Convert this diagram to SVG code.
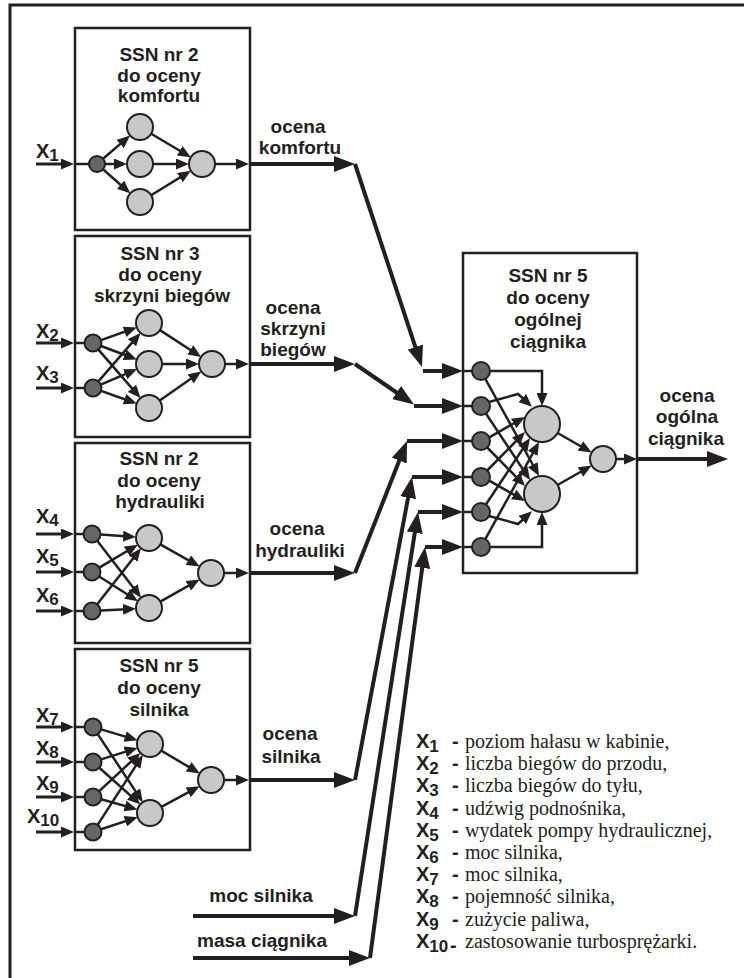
<svg xmlns="http://www.w3.org/2000/svg" width="744" height="978" viewBox="0 0 744 978">
<style>
.ln{stroke:#231f20;stroke-width:2.5;fill:none;marker-end:url(#s)}
.ia{stroke:#231f20;stroke-width:3;fill:none;marker-end:url(#s)}
.pl{stroke:#231f20;stroke-width:2.5;fill:none}
.fr{stroke:#231f20;stroke-width:3;fill:none}
.th{stroke:#231f20;stroke-width:4;fill:none;marker-end:url(#b)}
.box{fill:#fff;stroke:#231f20;stroke-width:2.5}
.in{fill:#666;stroke:#231f20;stroke-width:2}
.hd{fill:#c8c8c8;stroke:#231f20;stroke-width:2}
.t{font-family:"Liberation Sans",Arial,sans-serif;font-weight:bold;font-size:19px;fill:#231f20;text-anchor:middle}
.x{font-family:"Liberation Sans",Arial,sans-serif;font-weight:bold;font-size:20px;fill:#231f20}
.sub{font-size:17px}
.lg{font-family:"Liberation Serif","Times New Roman",serif;font-size:20px;fill:#231f20}
</style>
<defs>
<marker id="s" markerUnits="userSpaceOnUse" markerWidth="13" markerHeight="11" refX="9" refY="5.5" orient="auto"><path d="M0,0 L13,5.5 L0,11 z" fill="#231f20"/></marker>
<marker id="b" markerUnits="userSpaceOnUse" markerWidth="21" markerHeight="16" refX="15" refY="8" orient="auto"><path d="M0,0 L21,8 L0,16 z" fill="#231f20"/></marker>
</defs>
<rect width="744" height="978" fill="#fff"/>
<g id="frame"><path class="fr" d="M10,978 V5 H744"/></g>

<g id="ssn-komfort">
<rect class="box" x="75" y="28" width="175" height="202"/>
<text class="t" x="159" y="61">SSN nr 2</text>
<text class="t" x="159" y="82">do oceny</text>
<text class="t" x="159" y="102">komfortu</text>
<path class="pl" d="M75,164 H89"/>
<path class="ln" d="M103,158.8 L127.1,138.1"/>
<path class="ln" d="M105,164 H123"/>
<path class="ln" d="M103,169.3 L127.3,190.7"/>
<path class="ln" d="M151.2,133.7 L187.4,155.3"/>
<path class="ln" d="M153,164 H185"/>
<path class="ln" d="M151.1,195.2 L187.5,172.9"/>
<path class="ln" d="M215,164 H245"/>
<circle class="in" cx="97" cy="164" r="8"/>
<circle class="hd" cx="140" cy="127" r="13"/>
<circle class="hd" cx="140" cy="164" r="13"/>
<circle class="hd" cx="140" cy="202" r="13"/>
<circle class="hd" cx="202" cy="164" r="13"/>
</g>

<g id="ssn-skrzynia">
<rect class="box" x="75" y="236" width="175" height="201"/>
<text class="t" x="160" y="260">SSN nr 3</text>
<text class="t" x="160" y="281">do oceny</text>
<text class="t" x="162" y="302">skrzyni biegów</text>
<path class="pl" d="M75,343 H85 M75,388 H85"/>
<path class="ln" d="M101,340.1 L133,328.8"/>
<path class="ln" d="M101,346 L133.1,358"/>
<path class="ln" d="M98.2,349.4 L137.9,395.1"/>
<path class="ln" d="M98.2,381.6 L137.9,335.9"/>
<path class="ln" d="M100.8,384.7 L133.4,370.7"/>
<path class="ln" d="M101,390.9 L133,402.2"/>
<path class="ln" d="M159.9,330.1 L197.8,354.8"/>
<path class="ln" d="M162,364 H195"/>
<path class="ln" d="M159.7,400.6 L198,373.7"/>
<path class="ln" d="M225,364 H245"/>
<circle class="in" cx="93" cy="343" r="8.5"/>
<circle class="in" cx="93" cy="388" r="8.5"/>
<circle class="hd" cx="149" cy="323" r="13"/>
<circle class="hd" cx="149" cy="364" r="13"/>
<circle class="hd" cx="149" cy="408" r="13"/>
<circle class="hd" cx="212" cy="364" r="13"/>
</g>

<g id="ssn-hydraulika">
<rect class="box" x="75" y="443" width="175" height="200"/>
<text class="t" x="159" y="465">SSN nr 2</text>
<text class="t" x="159" y="487">do oceny</text>
<text class="t" x="160" y="508">hydrauliki</text>
<path class="pl" d="M75,534 H84 M75,572 H84 M75,611 H84"/>
<path class="ln" d="M100.5,534.6 L132,536.8"/>
<path class="ln" d="M97.2,540.7 L138.6,594.5"/>
<path class="ln" d="M99.3,567.6 L134.4,546.7"/>
<path class="ln" d="M99.2,576.5 L134.6,599"/>
<path class="ln" d="M97.2,604.3 L138.5,551.4"/>
<path class="ln" d="M100.5,610.5 L132,608.9"/>
<path class="ln" d="M160.3,544.4 L196.2,564.6"/>
<path class="ln" d="M160.3,601.6 L196.2,581.4"/>
<path class="ln" d="M224,573 H245"/>
<circle class="in" cx="92" cy="534" r="8.5"/>
<circle class="in" cx="92" cy="572" r="8.5"/>
<circle class="in" cx="92" cy="611" r="8.5"/>
<circle class="hd" cx="149" cy="538" r="13"/>
<circle class="hd" cx="149" cy="608" r="13"/>
<circle class="hd" cx="211" cy="573" r="13"/>
</g>

<g id="ssn-silnik">
<rect class="box" x="75" y="649" width="175" height="201"/>
<text class="t" x="159" y="672">SSN nr 5</text>
<text class="t" x="159" y="694">do oceny</text>
<text class="t" x="159" y="716">silnika</text>
<path class="pl" d="M75,727 H85 M75,762 H85 M75,797 H85 M75,832 H85"/>
<path class="ln" d="M101.1,729.4 L133.7,739.1"/>
<path class="ln" d="M97.7,734.1 L140.6,798.9"/>
<path class="ln" d="M101.1,759.4 L133.8,749.1"/>
<path class="ln" d="M99.3,767.7 L137.3,801.6"/>
<path class="ln" d="M99.2,791.2 L137.5,755.6"/>
<path class="ln" d="M101.2,799.3 L133.6,808.4"/>
<path class="ln" d="M97.6,824.9 L140.7,758.3"/>
<path class="ln" d="M101.1,829.3 L133.9,818.4"/>
<path class="ln" d="M161.2,750.6 L196.4,771.4"/>
<path class="ln" d="M161.4,806.8 L196.1,788.1"/>
<path class="ln" d="M224,780 H245"/>
<circle class="in" cx="93" cy="727" r="8.5"/>
<circle class="in" cx="93" cy="762" r="8.5"/>
<circle class="in" cx="93" cy="797" r="8.5"/>
<circle class="in" cx="93" cy="832" r="8.5"/>
<circle class="hd" cx="150" cy="744" r="13"/>
<circle class="hd" cx="150" cy="813" r="13"/>
<circle class="hd" cx="211" cy="780" r="13"/>
</g>

<g id="ssn-ogolna">
<rect class="box" x="463" y="253" width="174" height="320"/>
<text class="t" x="548" y="282">SSN nr 5</text>
<text class="t" x="548" y="304">do oceny</text>
<text class="t" x="548" y="326">ogólnej</text>
<text class="t" x="548" y="348">ciągnika</text>
<path class="pl" d="M463,371 H472 M463,406 H472 M463,441 H472 M463,477 H472 M463,512 H472 M463,547 H472"/>
<path class="ln" d="M490,371 H542 V402"/>
<path class="ln" d="M489,402 L518,394 L529,404"/>
<path class="ln" d="M488.8,437.6 L521.5,419"/>
<path class="ln" d="M487.2,470.5 L522.2,434.9"/>
<path class="ln" d="M485.9,504.5 L527.8,441.3"/>
<path class="ln" d="M485.3,539.1 L537.1,445.5"/>
<path class="ln" d="M490,547 H542 V516"/>
<path class="ln" d="M489,516 L518,524 L529,514"/>
<path class="ln" d="M488.8,480.4 L521.5,499"/>
<path class="ln" d="M487.2,447.5 L522.2,483.1"/>
<path class="ln" d="M485.9,413.5 L527.8,476.7"/>
<path class="ln" d="M485.3,378.9 L537.1,472.5"/>
<path class="ln" d="M557.6,433 L588.2,450.5"/>
<path class="ln" d="M557.6,485 L588.2,467.5"/>
<path class="ln" d="M616,459 H633"/>
<circle class="in" cx="481" cy="371" r="9"/>
<circle class="in" cx="481" cy="406" r="9"/>
<circle class="in" cx="481" cy="441" r="9"/>
<circle class="in" cx="481" cy="477" r="9"/>
<circle class="in" cx="481" cy="512" r="9"/>
<circle class="in" cx="481" cy="547" r="9"/>
<circle class="hd" cx="542" cy="424" r="18"/>
<circle class="hd" cx="542" cy="494" r="18"/>
<circle class="hd" cx="603" cy="459" r="13"/>
</g>

<g id="connectors">
<path class="ia" d="M36,164 H70"/>
<path class="ia" d="M36,343 H70"/>
<path class="ia" d="M36,388 H70"/>
<path class="ia" d="M36,534 H70"/>
<path class="ia" d="M36,572 H70"/>
<path class="ia" d="M36,611 H70"/>
<path class="ia" d="M36,727 H70"/>
<path class="ia" d="M36,762 H70"/>
<path class="ia" d="M36,797 H70"/>
<path class="ia" d="M36,832 H70"/>
<path class="th" d="M250,164 H349"/>
<path class="th" d="M250,364 H349"/>
<path class="th" d="M250,573 H349"/>
<path class="th" d="M250,780 H349"/>
<path class="th" d="M193,916 H349"/>
<path class="th" d="M193,958 H364"/>
<path class="th" d="M355,164 L420.1,361.3"/>
<path class="th" d="M355,364 L409,401"/>
<path class="th" d="M355,573 L404.8,446.6"/>
<path class="th" d="M355,780 L410.9,482.9"/>
<path class="th" d="M355,916 L417.1,517.9"/>
<path class="th" d="M370,958 L424.2,553"/>
<path class="th" d="M423,371 H457"/>
<path class="th" d="M414,406 H457"/>
<path class="th" d="M407,441 H457"/>
<path class="th" d="M412,477 H457"/>
<path class="th" d="M418,512 H457"/>
<path class="th" d="M425,547 H457"/>
<path class="th" d="M637,459 H722"/>
</g>

<g id="labels">
<text class="x" x="36" y="158">X<tspan class="sub" dy="3">1</tspan></text>
<text class="x" x="36" y="338">X<tspan class="sub" dy="3">2</tspan></text>
<text class="x" x="36" y="380">X<tspan class="sub" dy="3">3</tspan></text>
<text class="x" x="36" y="523">X<tspan class="sub" dy="3">4</tspan></text>
<text class="x" x="36" y="563">X<tspan class="sub" dy="3">5</tspan></text>
<text class="x" x="36" y="602">X<tspan class="sub" dy="3">6</tspan></text>
<text class="x" x="36" y="722">X<tspan class="sub" dy="3">7</tspan></text>
<text class="x" x="36" y="755">X<tspan class="sub" dy="3">8</tspan></text>
<text class="x" x="36" y="790">X<tspan class="sub" dy="3">9</tspan></text>
<text class="x" x="27" y="823">X<tspan class="sub" dy="3">10</tspan></text>
<text class="t" x="298" y="133">ocena</text>
<text class="t" x="300" y="154">komfortu</text>
<text class="t" x="293" y="314">ocena</text>
<text class="t" x="293" y="335">skrzyni</text>
<text class="t" x="293" y="356">biegów</text>
<text class="t" x="297" y="535">ocena</text>
<text class="t" x="300" y="557">hydrauliki</text>
<text class="t" x="290" y="740">ocena</text>
<text class="t" x="291" y="763">silnika</text>
<text class="t" x="687" y="402">ocena</text>
<text class="t" x="687" y="423">ogólna</text>
<text class="t" x="686" y="445">ciągnika</text>
<text class="t" x="261" y="902">moc silnika</text>
<text class="t" x="262" y="947">masa ciągnika</text>
</g>

<g id="legend">
<text class="x" x="416" y="748">X<tspan class="sub" dy="4">1</tspan></text>
<text class="x" x="416" y="770">X<tspan class="sub" dy="4">2</tspan></text>
<text class="x" x="416" y="792">X<tspan class="sub" dy="4">3</tspan></text>
<text class="x" x="416" y="815">X<tspan class="sub" dy="4">4</tspan></text>
<text class="x" x="416" y="837">X<tspan class="sub" dy="4">5</tspan></text>
<text class="x" x="416" y="859">X<tspan class="sub" dy="4">6</tspan></text>
<text class="x" x="416" y="881">X<tspan class="sub" dy="4">7</tspan></text>
<text class="x" x="416" y="903">X<tspan class="sub" dy="4">8</tspan></text>
<text class="x" x="416" y="926">X<tspan class="sub" dy="4">9</tspan></text>
<text class="x" x="416" y="948">X<tspan class="sub" dy="4">10</tspan></text>
<text class="x" x="452" y="748">-</text>
<text class="x" x="452" y="770">-</text>
<text class="x" x="452" y="792">-</text>
<text class="x" x="452" y="815">-</text>
<text class="x" x="452" y="837">-</text>
<text class="x" x="452" y="859">-</text>
<text class="x" x="452" y="881">-</text>
<text class="x" x="452" y="903">-</text>
<text class="x" x="452" y="926">-</text>
<text class="x" x="450" y="952">-</text>
<text class="lg" x="465" y="748">poziom hałasu w kabinie,</text>
<text class="lg" x="465" y="770">liczba biegów do przodu,</text>
<text class="lg" x="465" y="792">liczba biegów do tyłu,</text>
<text class="lg" x="465" y="815">udźwig podnośnika,</text>
<text class="lg" x="465" y="837">wydatek pompy hydraulicznej,</text>
<text class="lg" x="465" y="859">moc silnika,</text>
<text class="lg" x="465" y="881">moc silnika,</text>
<text class="lg" x="465" y="903">pojemność silnika,</text>
<text class="lg" x="465" y="926">zużycie paliwa,</text>
<text class="lg" x="465" y="948">zastosowanie turbosprężarki.</text>
</g>
</svg>
